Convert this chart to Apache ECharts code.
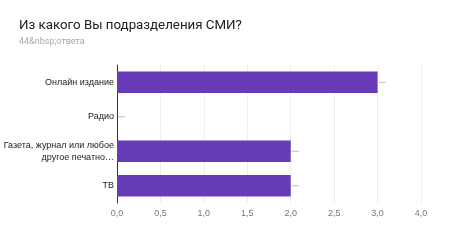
<!DOCTYPE html>
<html><head><meta charset="utf-8">
<script src="https://cdn.jsdelivr.net/npm/echarts@6/dist/echarts.min.js"></script>
<style>html,body{margin:0;padding:0;background:#fff}#c{width:468px;height:243px}</style>
</head><body><div id="c"></div>
<script>
const titleText = 'Из какого Вы подразделения СМИ?';
const subtitleText = '44&nbsp;ответа';
const categories = ['Онлайн издание', 'Радио', 'Газета, журнал или любое\nдругое печатно…', 'ТВ'];
const values = [3, 0, 2, 2];
// tick labels as printed on the reference (last one reads "4,0")
const tickLabels = ['0,0', '0,5', '1,0', '1,5', '2,0', '2,5', '3,0', '4,0'];
const xMin = 0, xMax = 3.5, xStep = 0.5;

const chart = echarts.init(document.getElementById('c'), null, {renderer: 'canvas'});
chart.setOption({
  animation: false,
  backgroundColor: '#fff',
  title: {
    text: titleText,
    subtext: subtitleText,
    left: 14, top: 14,
    itemGap: 5,
    textStyle: {fontFamily: 'Roboto', fontSize: 13.3, fontWeight: 'normal', color: '#212121'},
    subtextStyle: {fontFamily: 'Roboto', fontSize: 9, color: '#a8a8a8'}
  },
  grid: {left: 117, right: 47, top: 65, bottom: 40, containLabel: false, outerBoundsMode: 'none'},
  xAxis: {
    type: 'value', min: xMin, max: xMax, interval: xStep,
    axisLine: {show: false}, axisTick: {show: false},
    splitLine: {lineStyle: {color: '#eeeeee', width: 1}},
    axisLabel: {color: '#777', fontFamily: 'Arial, Liberation Sans', fontSize: 9, margin: 6,
      formatter: (v) => tickLabels[Math.round((v - xMin) / xStep)]}
  },
  yAxis: {
    type: 'category', data: categories, inverse: true,
    axisLine: {show: true, lineStyle: {color: '#333', width: 1}},
    axisTick: {show: false},
    axisLabel: {color: '#222', fontFamily: 'Arial, Liberation Sans', fontSize: 9, margin: 3, lineHeight: 12, align: 'right'}
  },
  series: [
    {type: 'bar', data: values, barWidth: '62%', itemStyle: {color: '#673ab7'}},
    {type: 'scatter', data: values, symbol: 'rect', symbolSize: [7, 1], symbolOffset: [4.5, 0],
     itemStyle: {color: '#aaaaaa'}, z: 5}
  ]
});
</script></body></html>
